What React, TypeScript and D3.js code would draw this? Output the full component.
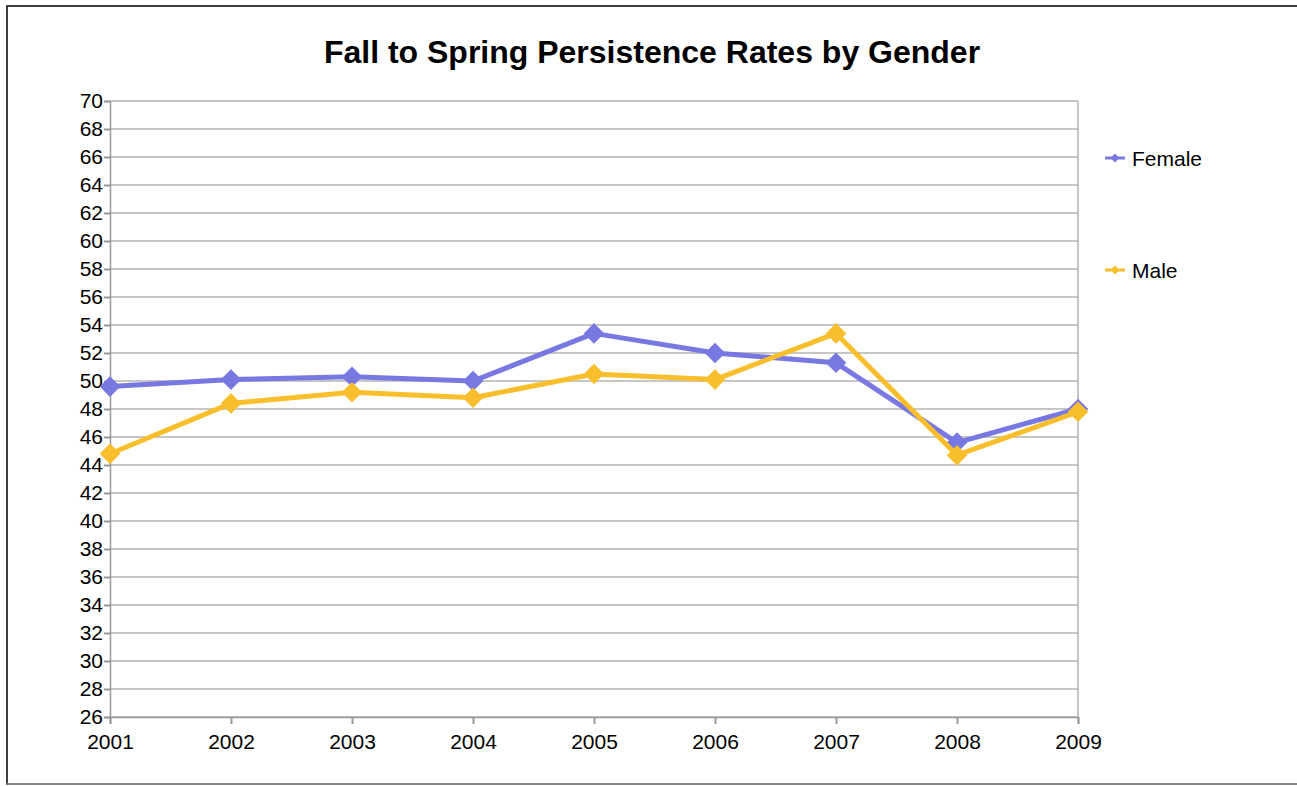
import React, { useEffect, useRef } from 'react'
import * as d3 from 'd3'

const years = ['2001', '2002', '2003', '2004', '2005', '2006', '2007', '2008', '2009']
const female = [49.6, 50.1, 50.3, 50.0, 53.4, 52.0, 51.3, 45.6, 48.0]
const male = [44.8, 48.4, 49.2, 48.8, 50.5, 50.1, 53.4, 44.7, 47.8]
const yTicks = d3.range(26, 71, 2)

const series = [
  { name: 'Female', values: female, color: '#7878e2' },
  { name: 'Male', values: male, color: '#f8be2c' },
]

export default function App() {
  const ref = useRef<SVGSVGElement>(null)

  useEffect(() => {
    const svg = d3.select(ref.current)
    svg.selectAll('*').remove()
    const width = 1297, height = 786
    const left = 110, right = 1078, top = 101, bottom = 717
    const font = 'Liberation Sans, Arial, sans-serif'

    svg.attr('width', width).attr('height', height)

    // frame
    svg.append('rect').attr('x', 7).attr('y', 6).attr('width', 1300).attr('height', 778)
      .attr('fill', 'white').attr('stroke', '#000').attr('stroke-width', 1.5)
    svg.append('line').attr('x1', 7).attr('x2', 1297).attr('y1', 784).attr('y2', 784)
      .attr('stroke', '#999').attr('stroke-width', 1.5)

    svg.append('text').attr('x', 652).attr('y', 63).attr('text-anchor', 'middle')
      .attr('font-family', font).attr('font-size', 32).attr('font-weight', 'bold')
      .text('Fall to Spring Persistence Rates by Gender')

    const x = d3.scalePoint().domain(years).range([left, right])
    const y = d3.scaleLinear().domain([26, 70]).range([bottom, top])

    // gridlines
    svg.append('g').selectAll('line').data(yTicks).enter().append('line')
      .attr('x1', left).attr('x2', right)
      .attr('y1', d => y(d)).attr('y2', d => y(d))
      .attr('stroke', '#b3b3b3').attr('stroke-width', 1.5)
    svg.append('line').attr('x1', right).attr('x2', right).attr('y1', top).attr('y2', bottom)
      .attr('stroke', '#b3b3b3').attr('stroke-width', 1.5)

    const yAxis = svg.append('g').attr('transform', `translate(${left},0)`)
      .call(d3.axisLeft(y).tickValues(yTicks).tickSize(6).tickPadding(1).tickFormat(d3.format('d')))
    const xAxis = svg.append('g').attr('transform', `translate(0,${bottom})`)
      .call(d3.axisBottom(x).tickSize(7).tickPadding(10))
    ;[yAxis, xAxis].forEach(a => {
      a.selectAll('path,line').attr('stroke', '#999').attr('stroke-width', 2)
      a.selectAll('text').attr('font-family', font).attr('font-size', 21).attr('fill', '#000')
    })
    yAxis.select('.domain').attr('stroke-width', 1.5)
    xAxis.select('.domain').attr('stroke-width', 1.5)

    const line = d3.line<number>().x((_, i) => x(years[i])!).y(d => y(d))
    const diamond = d3.symbol().type(d3.symbolDiamond2).size(270)

    series.forEach(s => {
      svg.append('path').datum(s.values).attr('d', line)
        .attr('fill', 'none').attr('stroke', s.color).attr('stroke-width', 5)
        .attr('stroke-linejoin', 'round')
      svg.append('g').selectAll('path').data(s.values).enter().append('path')
        .attr('d', diamond)
        .attr('transform', (d, i) => `translate(${x(years[i])},${y(d)})`)
        .attr('fill', s.color)
    })

    // legend
    const legend = svg.append('g').selectAll('g').data(series).enter().append('g')
      .attr('transform', (_, i) => `translate(1105,${158 + i * 112})`)
    legend.append('line').attr('x1', 0).attr('x2', 20).attr('stroke', d => d.color).attr('stroke-width', 3)
    legend.append('path').attr('d', d3.symbol().type(d3.symbolDiamond2).size(50))
      .attr('transform', 'translate(10,0)').attr('fill', d => d.color)
    legend.append('text').attr('x', 27).attr('y', 8).attr('font-family', font).attr('font-size', 21)
      .text(d => d.name)
  }, [])

  return <svg ref={ref} style={{ position: 'absolute', left: 0, top: 0 }}></svg>
}
